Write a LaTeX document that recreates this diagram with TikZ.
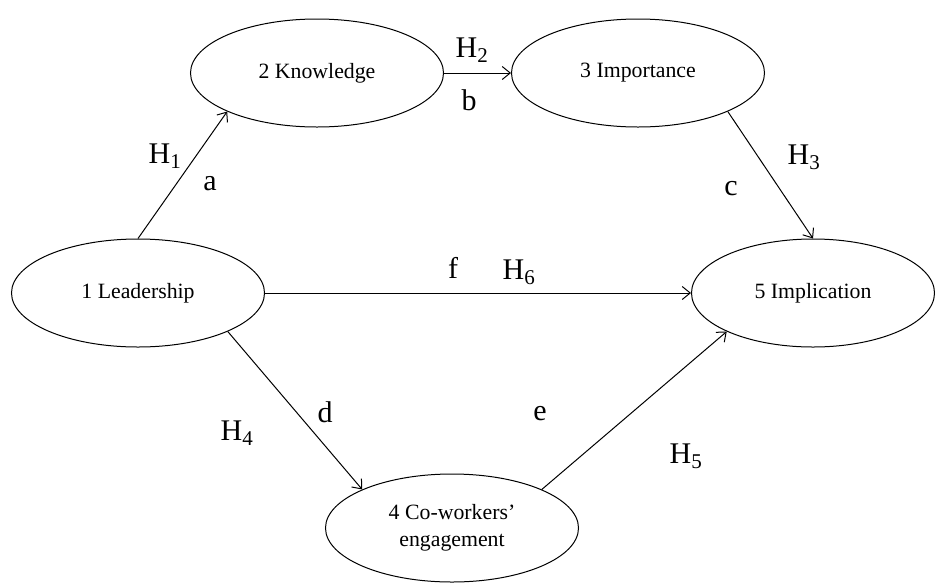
\documentclass[tikz,border=0pt]{standalone}
\usepackage{fontspec}
\setmainfont{Liberation Serif}
\usetikzlibrary{shapes.geometric,arrows.meta}
\begin{document}
\begin{tikzpicture}[x=1pt,y=-1pt,
  var/.style={ellipse,draw,line width=1pt,minimum width=253pt,minimum height=108pt,inner sep=0pt,align=center,font=\fontsize{21.8}{27}\selectfont},
  path/.style={line width=1pt,-{Straight Barb[length=8pt,width=13pt,line width=1pt]}},
  lab/.style={font=\fontsize{30}{32}\selectfont,inner sep=0pt}]
\useasboundingbox (0,0) rectangle (935,582);
\node[var] (know) at (317,73) {2 Knowledge};
\node[var] (imp) at (638,73) {3 Importance};
\node[var] (lead) at (138,293) {1 Leadership};
\node[var,minimum width=243pt] (impl) at (813,293) {5 Implication};
\node[var] (cw) at (452,528) {4 Co-workers’\\engagement};
\draw[path] (lead.north) -- (know.south west);
\draw[path] (know.east) -- (imp.west);
\draw[path] (imp.south east) -- (impl.north);
\draw[path] (lead.east) -- (impl.west);
\draw[path] (lead.south east) -- (cw.north west);
\draw[path] (cw.north east) -- (impl.south west);
\node[lab] (h1) at (165,156) {H\textsubscript{1}};
\node[lab] (la) at (210,184) {a};
\node[lab] (h2) at (472,50) {H\textsubscript{2}};
\node[lab] (lb) at (469,100) {b};
\node[lab] (h3) at (804,157) {H\textsubscript{3}};
\node[lab] (lc) at (731,189) {c};
\node[lab] (lf) at (453,268) {f};
\node[lab] (h6) at (519,272) {H\textsubscript{6}};
\node[lab] (h4) at (237,433) {H\textsubscript{4}};
\node[lab] (ld) at (325,412) {d};
\node[lab] (le) at (540,414) {e};
\node[lab] (h5) at (686,456) {H\textsubscript{5}};
\end{tikzpicture}
\end{document}
